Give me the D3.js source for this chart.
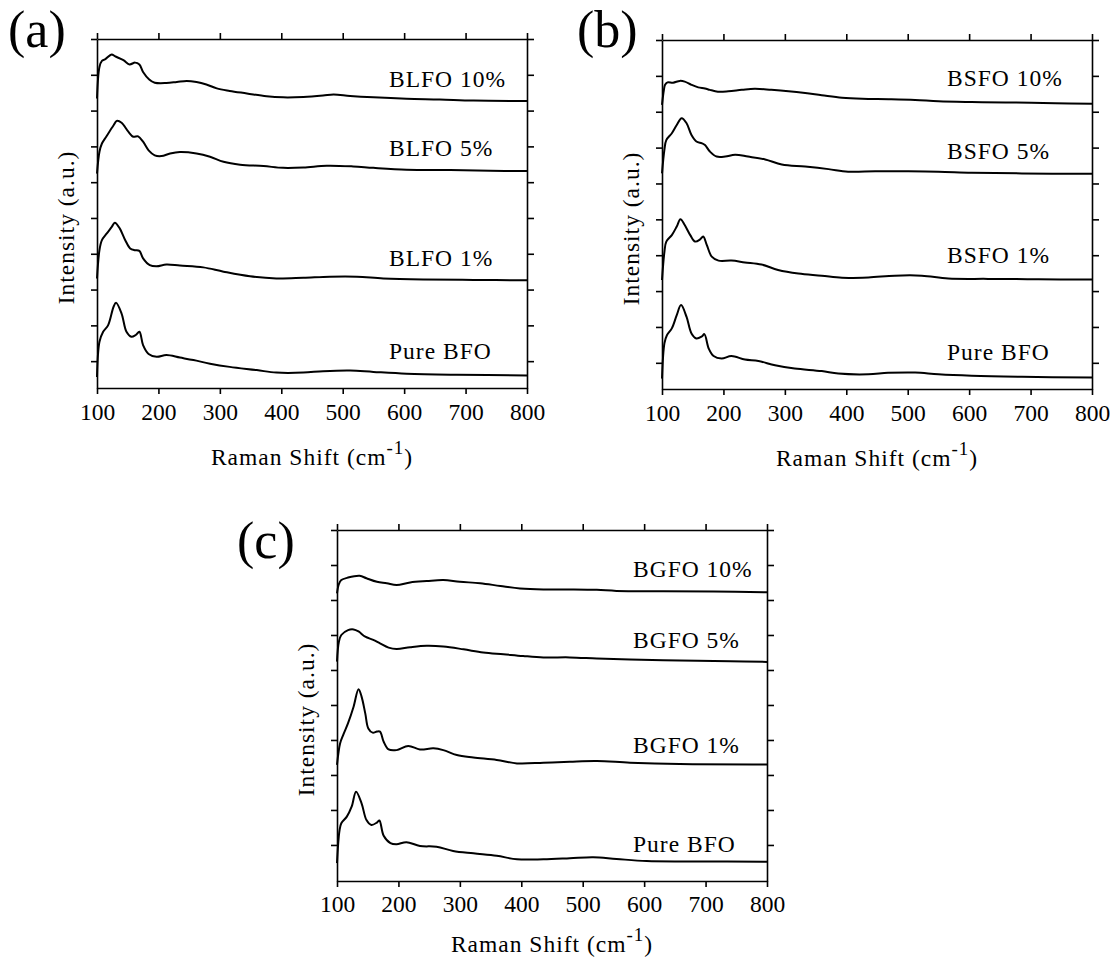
<!DOCTYPE html>
<html>
<head>
<meta charset="utf-8">
<script src="https://cdn.jsdelivr.net/npm/d3@7"></script>
<style>
  body { margin: 0; background: #fff; }
  svg text { font-family: "Liberation Serif", "Times New Roman", serif; fill: #000; }
</style>
</head>
<body>
<svg id="chart" width="1118" height="961"></svg>
<script>
// x ticks (Raman shift, cm-1) and y ticks (arbitrary units, one per stacked step)
const xTicks = [100, 200, 300, 400, 500, 600, 700, 800];
const yTicks = [0, 1, 2, 3, 4, 5, 6, 7, 8, 9];

// spectra: [raman shift, stacked intensity]
const blfo10 = [[100,7.34],[104,8.22],[108,8.39],[113,8.43],[124,8.57],[129,8.52],[143,8.41],[153,8.29],[162,8.34],[169,8.29],[175,8.08],[185,7.87],[194,7.78],[213,7.77],[230,7.80],[246,7.83],[262,7.80],[278,7.73],[295,7.62],[316,7.55],[344,7.48],[376,7.40],[403,7.37],[436,7.38],[468,7.42],[485,7.45],[512,7.41],[550,7.37],[604,7.33],[658,7.31],[713,7.28],[800,7.27]];
const blfo5 = [[100,5.24],[104,5.85],[108,6.08],[115,6.27],[127,6.59],[132,6.71],[140,6.66],[151,6.41],[159,6.27],[167,6.28],[175,6.13],[184,5.89],[194,5.75],[205,5.73],[219,5.80],[235,5.84],[262,5.80],[284,5.71],[306,5.57],[333,5.49],[371,5.45],[403,5.40],[436,5.41],[474,5.46],[517,5.44],[550,5.40],[604,5.35],[675,5.34],[740,5.32],[800,5.31]];
const blfo1 = [[100,2.31],[104,3.10],[108,3.38],[116,3.57],[124,3.75],[129,3.87],[137,3.71],[146,3.38],[154,3.15],[162,3.10],[169,3.08],[175,2.87],[186,2.68],[197,2.65],[213,2.70],[235,2.67],[273,2.62],[306,2.50],[349,2.37],[392,2.31],[436,2.33],[479,2.36],[523,2.36],[566,2.31],[631,2.28],[713,2.27],[800,2.26]];
const pureA = [[100,-0.44],[104,0.54],[110,0.82],[118,1.00],[127,1.52],[131,1.63],[140,1.33],[148,0.82],[156,0.68],[163,0.73],[169,0.82],[175,0.45],[184,0.20],[197,0.12],[213,0.17],[235,0.10],[257,0.03],[284,-0.07],[316,-0.16],[360,-0.25],[392,-0.32],[436,-0.32],[468,-0.28],[512,-0.26],[550,-0.30],[604,-0.35],[686,-0.38],[800,-0.40]];

const bsfo10 = [[100,7.19],[103,7.60],[105,7.75],[109,7.82],[118,7.81],[129,7.86],[137,7.84],[148,7.75],[159,7.68],[170,7.65],[178,7.61],[191,7.56],[208,7.57],[230,7.61],[251,7.64],[278,7.61],[306,7.57],[333,7.52],[360,7.46],[393,7.39],[426,7.36],[469,7.35],[512,7.33],[550,7.29],[604,7.27],[659,7.26],[740,7.24],[800,7.22]];
const bsfo5 = [[100,5.28],[104,5.95],[107,6.21],[116,6.40],[124,6.63],[132,6.82],[140,6.68],[148,6.35],[156,6.17],[165,6.12],[170,6.07],[178,5.89],[189,5.75],[203,5.75],[219,5.80],[240,5.75],[268,5.67],[295,5.53],[333,5.47],[371,5.40],[403,5.33],[447,5.34],[501,5.34],[550,5.33],[604,5.30],[686,5.28],[800,5.27]];
const bsfo1 = [[100,2.31],[104,3.10],[107,3.38],[116,3.56],[124,3.80],[130,4.00],[137,3.84],[146,3.56],[154,3.38],[162,3.44],[167,3.52],[173,3.28],[181,2.96],[192,2.85],[213,2.85],[235,2.80],[262,2.74],[289,2.59],[322,2.49],[360,2.43],[393,2.37],[436,2.38],[479,2.43],[523,2.43],[566,2.35],[631,2.34],[713,2.33],[800,2.32]];
const pureB = [[100,-0.44],[104,0.55],[108,0.77],[116,0.96],[124,1.33],[131,1.61],[140,1.28],[148,0.82],[156,0.68],[165,0.74],[169,0.80],[176,0.40],[184,0.19],[197,0.12],[213,0.19],[235,0.09],[257,0.05],[284,-0.07],[316,-0.16],[360,-0.23],[387,-0.30],[436,-0.32],[468,-0.28],[512,-0.27],[550,-0.32],[604,-0.36],[686,-0.39],[800,-0.41]];

const bgfo10 = [[100,7.19],[103,7.45],[107,7.57],[118,7.64],[137,7.69],[148,7.62],[165,7.52],[181,7.48],[197,7.43],[219,7.50],[246,7.54],[273,7.57],[300,7.52],[333,7.48],[366,7.40],[398,7.33],[436,7.30],[479,7.30],[523,7.29],[555,7.26],[631,7.25],[713,7.24],[800,7.22]];
const bgfo5 = [[100,5.24],[103,5.80],[107,6.00],[118,6.14],[127,6.16],[135,6.10],[146,5.95],[159,5.86],[170,5.76],[184,5.64],[197,5.60],[219,5.65],[246,5.69],[273,5.67],[306,5.59],[338,5.50],[371,5.45],[403,5.40],[436,5.36],[479,5.36],[523,5.33],[577,5.30],[658,5.27],[740,5.25],[800,5.23]];
const bgfo1 = [[100,2.29],[105,2.90],[110,3.14],[118,3.48],[127,3.95],[135,4.45],[140,4.24],[146,3.76],[151,3.33],[158,3.21],[165,3.24],[170,3.24],[176,2.95],[184,2.73],[197,2.71],[216,2.83],[235,2.73],[257,2.76],[273,2.71],[295,2.57],[322,2.50],[360,2.43],[393,2.33],[436,2.35],[479,2.38],[523,2.40],[577,2.35],[658,2.31],[800,2.30]];
const pureC = [[100,-0.52],[104,0.40],[107,0.62],[116,0.81],[124,1.10],[131,1.52],[140,1.19],[148,0.71],[156,0.57],[165,0.64],[169,0.70],[176,0.26],[187,0.05],[197,0.02],[213,0.08],[235,-0.03],[262,-0.05],[289,-0.17],[322,-0.24],[360,-0.31],[393,-0.41],[436,-0.41],[479,-0.38],[517,-0.35],[555,-0.40],[604,-0.46],[686,-0.47],[800,-0.48]];

const labelsA = ["BLFO 10%", "BLFO 5%", "BLFO 1%", "Pure BFO"];
const labelsB = ["BSFO 10%", "BSFO 5%", "BSFO 1%", "Pure BFO"];
const labelsC = ["BGFO 10%", "BGFO 5%", "BGFO 1%", "Pure BFO"];

// layout of the three panels (pixels), label baselines in intensity units
const panels = [
  { tag: "(a)", tagX: 8, tagY: 46.5, left: 97, right: 527, top: 39, bottom: 388, yMin: -0.75,
    series: [blfo10, blfo5, blfo1, pureA], labels: labelsA, labelX: 292, labelY: [7.65, 5.73, 2.65, 0.06],
    tickY: 32, titleY: 77 },
  { tag: "(b)", tagX: 577, tagY: 47, left: 662, right: 1092, top: 40, bottom: 389, yMin: -0.73,
    series: [bsfo10, bsfo5, bsfo1, pureB], labels: labelsB, labelX: 285, labelY: [7.71, 5.69, 2.78, 0.08],
    tickY: 32, titleY: 77 },
  { tag: "(c)", tagX: 237, tagY: 558, left: 337, right: 767, top: 530, bottom: 881, yMin: -1.03,
    series: [bgfo10, bgfo5, bgfo1, pureC], labels: labelsC, labelX: 296, labelY: [7.66, 5.63, 2.63, -0.2],
    tickY: 31, titleY: 71 }
];

const svg = d3.select("#chart");

function drawPanel(p) {
  const x = d3.scaleLinear().domain([100, 800]).range([p.left, p.right]);
  const y = d3.scaleLinear().domain([p.yMin, 9]).range([p.bottom, p.top]);
  const g = svg.append("g");

  const bottomAxis = g.append("g")
    .attr("transform", `translate(0,${p.bottom})`)
    .call(d3.axisBottom(x).tickValues(xTicks).tickSize(6).tickSizeOuter(0));
  bottomAxis.selectAll(".tick text")
    .attr("y", p.tickY).attr("dy", null)
    .style("font-size", "23.5px");

  g.append("g")
    .attr("transform", `translate(0,${p.top})`)
    .call(d3.axisTop(x).tickValues(xTicks).tickSize(6).tickSizeOuter(0).tickFormat(""));
  g.append("g")
    .attr("transform", `translate(${p.left},0)`)
    .call(d3.axisLeft(y).tickValues(yTicks).tickSize(6).tickSizeOuter(0).tickFormat(""));
  g.append("g")
    .attr("transform", `translate(${p.right},0)`)
    .call(d3.axisRight(y).tickValues(yTicks).tickSize(7).tickSizeOuter(0).tickFormat(""));

  g.selectAll(".domain, .tick line")
    .attr("stroke", "#000")
    .attr("stroke-width", 1.6);

  const line = d3.line()
    .x(d => x(d[0]))
    .y(d => y(d[1]))
    .curve(d3.curveCatmullRom.alpha(0.5));

  p.series.forEach(s => {
    g.append("path")
      .datum(s)
      .attr("d", line)
      .attr("fill", "none")
      .attr("stroke", "#000")
      .attr("stroke-width", 2)
      .attr("stroke-linejoin", "round");
  });

  p.labels.forEach((name, i) => {
    g.append("text")
      .attr("x", p.left + p.labelX)
      .attr("y", y(p.labelY[i]))
      .style("font-size", "23.5px")
      .style("letter-spacing", "1px")
      .text(name);
  });

  // axis titles
  const title = g.append("text")
    .attr("x", (p.left + p.right) / 2)
    .attr("y", p.bottom + p.titleY)
    .attr("text-anchor", "middle")
    .style("font-size", "23.5px")
    .style("letter-spacing", "1px");
  title.append("tspan").text("Raman Shift (cm");
  title.append("tspan").attr("dy", -11).style("font-size", "19px").text("-1");
  title.append("tspan").attr("dy", 11).text(")");

  g.append("text")
    .attr("transform", `translate(${p.left - 23},${(p.top + p.bottom) / 2 + 14}) rotate(-90)`)
    .attr("text-anchor", "middle")
    .style("font-size", "23.5px")
    .style("letter-spacing", "1px")
    .text("Intensity (a.u.)");

  g.append("text")
    .attr("x", p.tagX)
    .attr("y", p.tagY)
    .style("font-size", "52px")
    .text(p.tag);
}

panels.forEach(drawPanel);
</script>
</body>
</html>
